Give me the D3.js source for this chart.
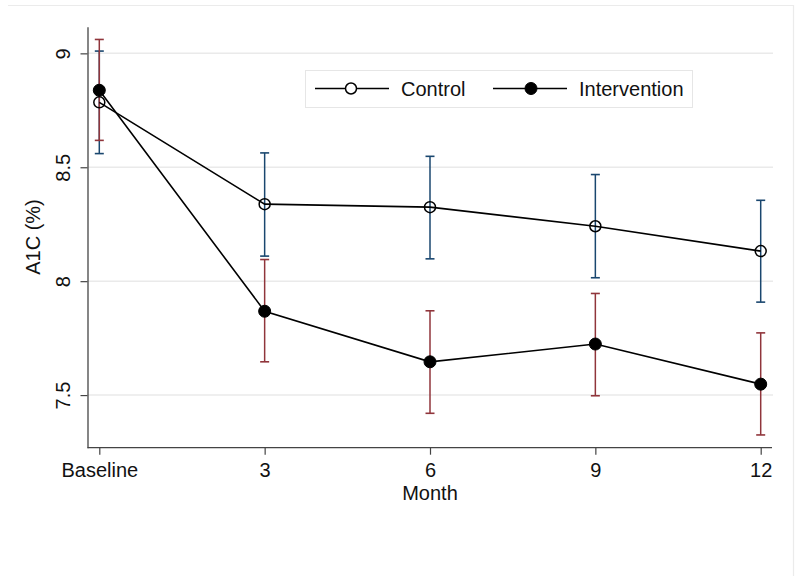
<!DOCTYPE html>
<html>
<head>
<meta charset="utf-8">
<script src="https://cdn.jsdelivr.net/npm/d3@7"></script>
<style>
  body { margin: 0; background: #fff; }
  text { font-family: "Liberation Sans", Arial, sans-serif; fill: #111; }
</style>
</head>
<body>
<svg id="chart" width="800" height="581"></svg>
<script>
const categories = ["Baseline", "3", "6", "9", "12"];
const controlMean = [8.785, 8.338, 8.325, 8.241, 8.132];
const controlLow  = [8.560, 8.110, 8.098, 8.015, 7.908];
const controlHigh = [9.010, 8.563, 8.548, 8.468, 8.355];
const interventionMean = [8.838, 7.868, 7.646, 7.724, 7.548];
const interventionLow  = [8.618, 7.646, 7.420, 7.497, 7.325];
const interventionHigh = [9.061, 8.095, 7.870, 7.946, 7.773];
const yTicks = [7.5, 8, 8.5, 9];
const seriesNames = ["Control", "Intervention"];

const svg = d3.select("#chart");
const FS = 20;

// outer frame (top and right edges visible)
svg.append("path").attr("d", "M8,5.5H793.5V576")
  .attr("fill", "none").attr("stroke", "#ebebeb").attr("stroke-width", 1.2);

const plot = { left: 87.5, right: 772, top: 26.7, bottom: 447.7 };

const x = d3.scalePoint().domain(categories).range([99.3, 760.7]);
const y = d3.scaleLinear().domain([7.269, 9.117]).range([plot.bottom, plot.top]);

// gridlines
svg.append("g").selectAll("line").data(yTicks).join("line")
  .attr("x1", plot.left).attr("x2", 773)
  .attr("y1", d => y(d)).attr("y2", d => y(d))
  .attr("stroke", "#eaeaea").attr("stroke-width", 1.5);

// y axis
const yAxis = svg.append("g").attr("transform", `translate(${plot.left},0)`)
  .call(d3.axisLeft(y).tickValues(yTicks).tickFormat(d3.format("")).tickSize(7).tickSizeOuter(0));
yAxis.select(".domain").attr("stroke", "#444").attr("stroke-width", 1.3);
yAxis.selectAll(".tick line").attr("stroke", "#444").attr("stroke-width", 1.2);
yAxis.selectAll(".tick text")
  .attr("font-size", FS).attr("font-family", "Liberation Sans, Arial, sans-serif").attr("fill", "#111")
  .attr("text-anchor", "middle")
  .attr("transform", "translate(-18,0) rotate(-90)")
  .attr("x", 0).attr("y", 0).attr("dy", "0");

// x axis
const xAxis = svg.append("g").attr("transform", `translate(0,${plot.bottom})`)
  .call(d3.axisBottom(x).tickSize(7).tickSizeOuter(0).tickPadding(8));
xAxis.select(".domain").attr("d", `M${plot.left},0H${plot.right}`).attr("stroke", "#444").attr("stroke-width", 1.3);
xAxis.selectAll(".tick line").attr("stroke", "#444").attr("stroke-width", 1.2);
xAxis.selectAll(".tick text")
  .attr("font-size", FS).attr("font-family", "Liberation Sans, Arial, sans-serif").attr("fill", "#111");

// axis titles
svg.append("text").attr("transform", `translate(40,237) rotate(-90)`)
  .attr("text-anchor", "middle").attr("font-size", FS).text("A1C (%)");
svg.append("text").attr("x", 430).attr("y", 500)
  .attr("text-anchor", "middle").attr("font-size", FS).text("Month");

const series = [
  { name: seriesNames[0], mean: controlMean, low: controlLow, high: controlHigh, color: "#1a476f", filled: false },
  { name: seriesNames[1], mean: interventionMean, low: interventionLow, high: interventionHigh, color: "#90353b", filled: true }
];

// error bars
series.forEach(s => {
  const g = svg.append("g");
  categories.forEach((c, i) => {
    const cx = x(c);
    g.append("line").attr("x1", cx).attr("x2", cx).attr("y1", y(s.low[i])).attr("y2", y(s.high[i]))
      .attr("stroke", s.color).attr("stroke-width", 1.5);
    [s.low[i], s.high[i]].forEach(v => {
      g.append("line").attr("x1", cx - 4.5).attr("x2", cx + 4.5).attr("y1", y(v)).attr("y2", y(v))
        .attr("stroke", s.color).attr("stroke-width", 1.6);
    });
  });
});

// lines and markers
const line = d3.line().x((d, i) => x(categories[i])).y(d => y(d));
series.forEach(s => {
  svg.append("path").datum(s.mean).attr("d", line)
    .attr("fill", "none").attr("stroke", "#000").attr("stroke-width", 1.6);
});
series.forEach(s => {
  svg.append("g").selectAll("circle").data(s.mean).join("circle")
    .attr("cx", (d, i) => x(categories[i])).attr("cy", d => y(d))
    .attr("r", s.filled ? 6 : 5.5)
    .attr("fill", s.filled ? "#000" : "none")
    .attr("stroke", "#000").attr("stroke-width", s.filled ? 1 : 1.5);
});

// legend
const lg = svg.append("g");
lg.append("rect").attr("x", 305.5).attr("y", 70.5).attr("width", 387).attr("height", 37)
  .attr("fill", "#fff").attr("stroke", "#e6e6e6").attr("stroke-width", 1);
const legendItems = [
  { x1: 315, x2: 389, mx: 351, tx: 401, s: series[0] },
  { x1: 493, x2: 567, mx: 531, tx: 579, s: series[1] }
];
legendItems.forEach(it => {
  lg.append("line").attr("x1", it.x1).attr("x2", it.x2).attr("y1", 88.5).attr("y2", 88.5)
    .attr("stroke", "#000").attr("stroke-width", 1.6);
  lg.append("circle").attr("cx", it.mx).attr("cy", 88.5).attr("r", it.s.filled ? 6 : 5.5)
    .attr("fill", it.s.filled ? "#000" : "#fff").attr("stroke", "#000").attr("stroke-width", it.s.filled ? 1 : 1.5);
  lg.append("text").attr("x", it.tx).attr("y", 95.5).attr("font-size", FS).text(it.s.name);
});
</script>
</body>
</html>
